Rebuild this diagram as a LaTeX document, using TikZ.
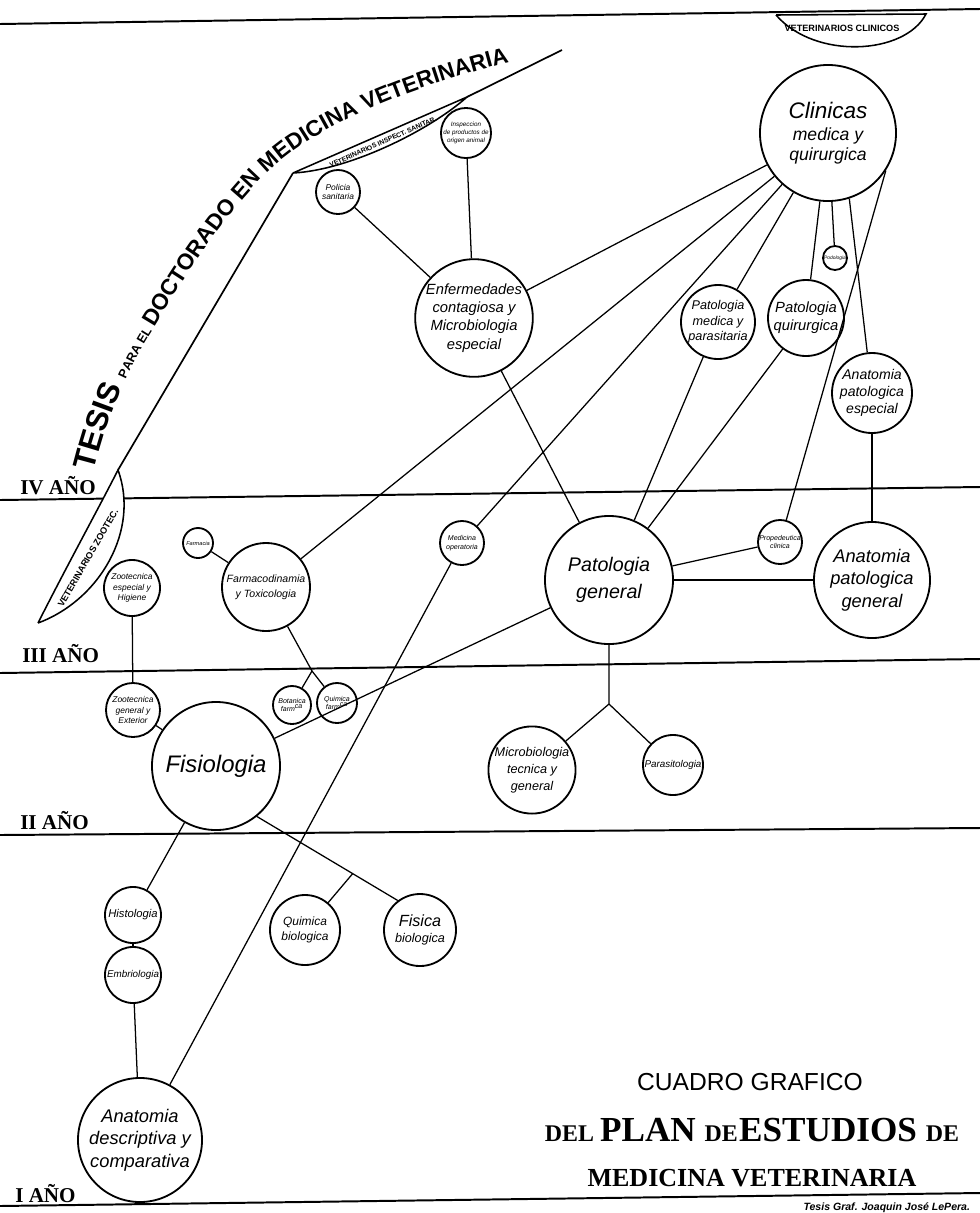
\documentclass[tikz,border=0pt]{standalone}
\usepackage{fontspec}
\setmainfont{Liberation Serif}
\setsansfont{Liberation Sans}
\usetikzlibrary{positioning, calc, decorations.text}

\begin{document}
\begin{tikzpicture}[
    x=0.025cm, y=-0.025cm,
    subj/.style={draw, circle, fill=white, line width=1.3pt, inner sep=0pt, align=center, minimum size=#1*0.05cm},
    txt/.style 2 args={font=\fontsize{#1}{#2}\selectfont\sffamily\itshape},
    link/.style={line width=0.9pt},
    yearline/.style={line width=1.4pt},
    yearlabel/.style={font=\fontsize{15}{15}\selectfont\bfseries, anchor=base west, inner sep=0pt},
    lens/.style={draw, fill=white, line width=1.1pt},
    lenstext/.style={font=\fontsize{#1}{#1}\selectfont\sffamily\bfseries, inner sep=0pt}
    ]
    \useasboundingbox (0,0) rectangle (980,1213);

    % Year lines
    \draw[yearline] (0,24) -- (980,9);
    \draw[yearline] (0,500) -- (980,487);
    \draw[yearline] (0,673) -- (980,659);
    \draw[yearline] (0,835) -- (980,828);
    \draw[yearline] (0,1206) -- (980,1193);

    \node[yearlabel] (iv)  at (20,494)  {IV AÑO};
    \node[yearlabel] (iii) at (22,662)  {III AÑO};
    \node[yearlabel] (ii)  at (20,829)  {II AÑO};
    \node[yearlabel] (i)   at (15,1202) {I AÑO};

    % Banner
    \coordinate (bannerA) at (118,470);
    \coordinate (bannerB) at (293,173);
    \coordinate (bannerC) at (467,97);
    \coordinate (bannerD) at (562,50);
    \draw[line width=1.2pt] (bannerA) -- (bannerB);
    \draw[line width=1.2pt] (bannerC) -- (bannerD);

    \draw[lens] (38,623) .. controls (70,560) and (95,515) .. (bannerA) .. controls (140,530) and (100,600) .. (38,623);
    \node[lenstext=6.5, rotate=60] (zootec) at (88,558) {VETERINARIOS ZOOTEC.};
    \draw[lens] (bannerB) -- (bannerC) .. controls (430,130) and (350,170) .. (bannerB);
    \node[lenstext=4.8, rotate=24] (inspect) at (383,142) {VETERINARIOS INSPECT. SANITAR.};
    \draw[lens] (776,15) -- (926,14) .. controls (905,55) and (815,60) .. (776,15);
    \node[lenstext=6.5] (clinicoslens) at (842,28) {VETERINARIOS CLINICOS};

    \path[decorate, decoration={text along path, text={|\fontsize{22}{22}\selectfont\sffamily\bfseries|TESIS |\fontsize{9}{9}\selectfont\sffamily\bfseries|PARA EL |\fontsize{16}{16}\selectfont\sffamily\bfseries|DOCTORADO EN MEDICINA VETERINARIA}}]
        (94,472) .. controls (110,410) and (128,368) .. (155,326) .. controls (190,268) and (226,214) .. (264,176) .. controls (312,126) and (415,82) .. (552,52);

    % Nodes
    \node[subj=68, txt={12.5}{14}] (clinicas) at (828,133) {{\fontsize{16}{18}\selectfont Clinicas}\\[2pt]medica y\\quirurgica};
    \node[subj=22, txt={6}{7}] (policia) at (338,192) {Policia\\sanitaria};
    \node[subj=25, txt={4.5}{5.5}] (inspeccion) at (466,133) {Inspeccion\\de productos de\\origen animal};
    \node[subj=52, txt={10.5}{13}] (enfermedades) at (474,318) {Enfermedades\\contagiosa y\\Microbiologia\\especial};
    \node[subj=37, txt={9}{11}] (patmedica) at (718,322) {Patologia\\medica y\\parasitaria};
    \node[subj=38, txt={10.5}{13}] (patquir) at (806,318) {Patologia\\quirurgica};
    \node[subj=12, txt={3.5}{4}] (podologia) at (835,258) {Podologia};
    \node[subj=40, txt={10}{12}] (anatpatesp) at (872,393) {Anatomia\\patologica\\especial};
    \node[subj=64, txt={14}{19}] (patgeneral) at (609,580) {Patologia\\general};
    \node[subj=22, txt={5}{6}] (propedeutica) at (780,542) {Propedeutica\\clinica};
    \node[subj=58, txt={13}{16}] (anatpatgen) at (872,580) {Anatomia\\patologica\\general};
    \node[subj=22, txt={5}{6}] (medoperatoria) at (462,543) {Medicina\\operatoria};
    \node[subj=15, txt={4}{5}] (farmacia) at (198,543) {Farmacia};
    \node[subj=44, txt={7.5}{11}] (farmacodinamia) at (266,587) {Farmacodinamia\\y Toxicologia};
    \node[subj=28, txt={6}{7.5}] (zooesp) at (132,588) {Zootecnica\\especial y\\Higiene};
    \node[subj=19, txt={5}{6}] (botanica) at (292,705) {Botanica\\farm\textsuperscript{ca}};
    \node[subj=20, txt={5}{6}] (quimfarm) at (337,703) {Quimica\\farm\textsuperscript{ca}};
    \node[subj=27, txt={6}{7.5}] (zoogen) at (133,710) {Zootecnica\\general y\\Exterior};
    \node[subj=42, txt={9}{12}] (microbiologia) at (532,770) {Microbiologia\\tecnica y\\general};
    \node[subj=30, txt={7}{8}] (parasitologia) at (673,765) {Parasitologia};
    \node[subj=64, txt={17}{20}] (fisiologia) at (216,766) {Fisiologia};
    \node[subj=28, txt={8}{9}] (histologia) at (133,915) {Histologia};
    \node[subj=28, txt={7}{8}] (embriologia) at (133,975) {Embriologia};
    \node[subj=35, txt={8.5}{10.5}] (quimbio) at (305,930) {Quimica\\biologica};
    \node[subj=36, txt={9}{11}] (fisbio) at (420,930) {{\fontsize{11.5}{12}\selectfont Fisica}\\biologica};
    \node[subj=62, txt={13}{16}] (anatdesc) at (140,1140) {Anatomia\\descriptiva y\\comparativa};

    % Junctions
    \coordinate (micjunc) at (609,704);
    \coordinate (farmjunc) at (312,671);
    \coordinate (qfjunc) at ($(fisiologia.-51)!0.68!(fisbio.127)$);

    % Lines
    \draw[link] (clinicas) -- (enfermedades);
    \draw[link] (clinicas) -- (farmacodinamia);
    \draw[link] (clinicas) -- (medoperatoria);
    \draw[link] (clinicas) -- (patmedica);
    \draw[link] (clinicas) -- (patquir);
    \draw[link] (clinicas) -- (podologia);
    \draw[link] (clinicas.-72) -- (anatpatesp);
    \draw[link] (clinicas.-33) -- (propedeutica);
    \draw[link] (inspeccion) -- (enfermedades);
    \draw[link] (policia) -- (enfermedades);
    \draw[link] (enfermedades) -- (patgeneral);
    \draw[link] (patmedica) -- (patgeneral);
    \draw[link] (patquir) -- (patgeneral);
    \draw[link] (anatpatesp) -- (anatpatgen);
    \draw[link] (propedeutica) -- (patgeneral);
    \draw[link] (anatpatgen) -- (patgeneral);
    \draw[link] (patgeneral) -- (fisiologia);
    \draw[link] (patgeneral) -- (micjunc) -- (microbiologia);
    \draw[link] (micjunc) -- (parasitologia);
    \draw[link] (farmacia) -- (farmacodinamia);
    \draw[link] (farmacodinamia) -- (farmjunc) -- (botanica);
    \draw[link] (farmjunc) -- (quimfarm);
    \draw[link] (zooesp) -- (zoogen);
    \draw[link] (zoogen) -- (fisiologia);
    \draw[link] (fisiologia) -- (histologia);
    \draw[link] (histologia) -- (embriologia);
    \draw[link] (embriologia) -- (anatdesc);
    \draw[link] (medoperatoria) -- (anatdesc);
    \draw[link] (fisiologia.-51) -- (fisbio.127);
    \draw[link] (quimbio) -- (qfjunc);

    % Title
    \node[font=\fontsize{17.5}{17.5}\selectfont\sffamily] (cuadro) at (750,1082) {CUADRO GRAFICO};
    \node[font=\bfseries] (plan) at (752,1130) {\fontsize{17}{17}\selectfont DEL \fontsize{25}{25}\selectfont PLAN \fontsize{17}{17}\selectfont DE\kern1pt\fontsize{25}{25}\selectfont ESTUDIOS \fontsize{17}{17}\selectfont DE};
    \node[font=\fontsize{18.5}{18.5}\selectfont\bfseries] (medvet) at (752,1178) {MEDICINA VETERINARIA};
    \node[font=\fontsize{7.5}{7.5}\selectfont\sffamily\bfseries\itshape, anchor=base east] (autor) at (975,1210) {Tesis Graf. Joaquin José LePera.};
\end{tikzpicture}
\end{document}
